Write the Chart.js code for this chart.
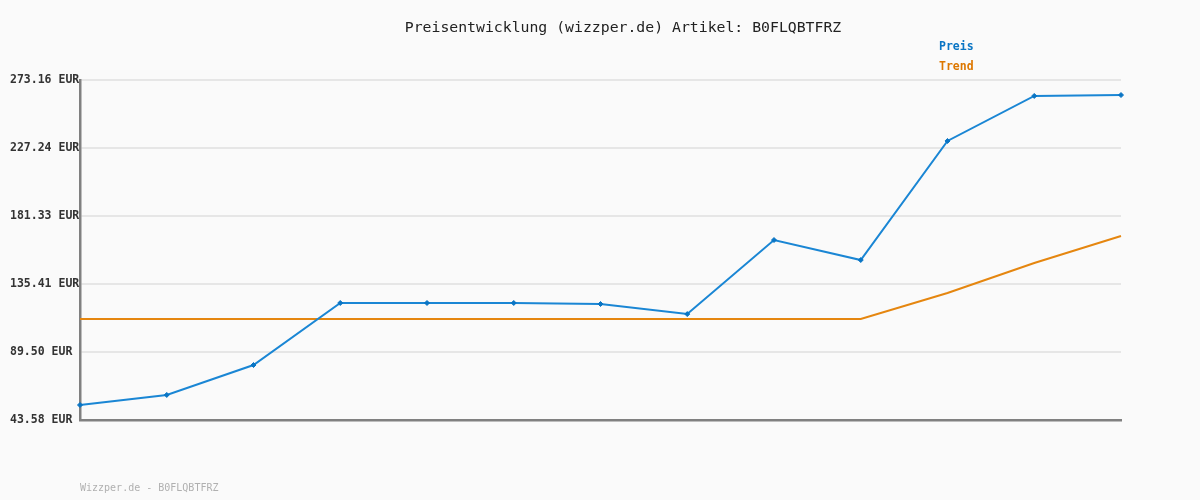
<!DOCTYPE html>
<html>
<head>
<meta charset="utf-8">
<script src="https://cdn.jsdelivr.net/npm/chart.js@4"></script>
<style>
  html, body { margin: 0; padding: 0; background: #fafafa; }
  #wrap { width: 1200px; height: 500px; position: relative; }
</style>
</head>
<body>
<div id="wrap"><canvas id="chart" width="1200" height="500"></canvas></div>
<script>
const categories = ['1', '2', '3', '4', '5', '6', '7', '8', '9', '10', '11', '12', '13'];
const preis = [53.7, 60.5, 80.7, 122.6, 122.6, 122.6, 121.9, 115.1, 165.1, 151.6, 232.0, 262.4, 263.0];
const trend = [111.8, 111.8, 111.8, 111.8, 111.8, 111.8, 111.8, 111.8, 111.8, 111.8, 129.3, 149.6, 167.8];
const yTicks = [43.58, 89.50, 135.41, 181.33, 227.24, 273.16];
const titleText = 'Preisentwicklung (wizzper.de) Artikel: B0FLQBTFRZ';
const footerText = 'Wizzper.de - B0FLQBTFRZ';

const blue = '#1a86d4';
const orange = '#e5860f';
const mono = '"DejaVu Sans Mono", "Liberation Mono", monospace';

// title, legend texts and footer drawn on the canvas
const textPlugin = {
  id: 'texts',
  afterDraw(chart) {
    const c = chart.ctx;
    c.save();
    c.textBaseline = 'middle';
    c.textAlign = 'center';
    c.fillStyle = '#222';
    c.font = '14.8px ' + mono;
    c.fillText(titleText, 623, 28);

    c.textAlign = 'left';
    c.font = 'bold 11.5px ' + mono;
    chart.data.datasets.forEach((ds, i) => {
      c.fillStyle = i === 0 ? '#0a75c4' : '#dd7700';
      c.fillText(ds.label, 939, 47 + i * 20);
    });

    c.fillStyle = '#b0b0b0';
    c.font = '10px ' + mono;
    c.fillText(footerText, 80, 488);
    c.restore();
  }
};

const ctx = document.getElementById('chart').getContext('2d');
new Chart(ctx, {
  type: 'line',
  data: {
    labels: categories,
    datasets: [{
      label: 'Preis',
      data: preis,
      borderColor: blue,
      backgroundColor: '#0a75c4',
      borderWidth: 2,
      pointStyle: 'rectRot',
      pointRadius: 2.5,
      pointBorderWidth: 1,
      pointBorderColor: '#0a75c4',
      tension: 0
    }, {
      label: 'Trend',
      data: trend,
      borderColor: orange,
      borderWidth: 2,
      pointRadius: 0,
      tension: 0
    }]
  },
  options: {
    responsive: false,
    animation: false,
    layout: { padding: { left: 10, right: 79, top: 80, bottom: 80 } },
    plugins: {
      legend: { display: false },
      title: { display: false },
      tooltip: { enabled: false }
    },
    scales: {
      x: {
        ticks: { display: false },
        grid: { display: false, drawTicks: false },
        border: { display: true, color: '#808080', width: 2.5 },
        afterFit(scale) { scale.height = 0; }
      },
      y: {
        min: 43.58,
        max: 273.16,
        afterBuildTicks(scale) {
          scale.ticks = yTicks.map(v => ({ value: v }));
        },
        ticks: {
          crossAlign: 'far',
          padding: 0,
          color: '#333',
          font: { family: mono, size: 11.5, weight: 'bold' },
          callback: v => Number(v).toFixed(2) + ' EUR'
        },
        grid: { color: '#e6e6e6', lineWidth: 2, drawTicks: false },
        border: { display: true, color: '#808080', width: 2.5 },
        afterFit(scale) { scale.width = 70; }
      }
    }
  },
  plugins: [textPlugin]
});
</script>
</body>
</html>
